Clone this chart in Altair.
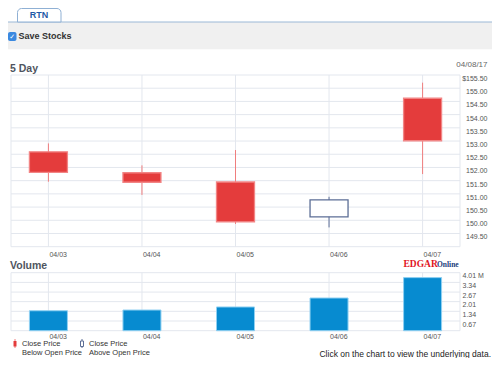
import altair as alt
import pandas as pd

# ---- data ----
dates = ["04/03", "04/04", "04/05", "04/06", "04/07"]
opens = [152.59, 151.80, 151.45, 150.13, 154.62]
highs = [152.91, 152.08, 152.66, 150.89, 155.21]
lows = [151.46, 150.96, 149.86, 149.73, 151.75]
closes = [151.81, 151.44, 149.94, 150.77, 153.01]
volumes = [1.38, 1.43, 1.64, 2.26, 3.67]  # millions

price_grid = [149.0, 149.5, 150.0, 150.5, 151.0, 151.5, 152.0, 152.5, 153.0, 153.5, 154.0, 154.5, 155.0, 155.5]
price_ticks = price_grid[1:]
vol_ticks = [0.67, 1.34, 2.01, 2.67, 3.34, 4.01]
vol_grid = [0.0] + vol_ticks

df = pd.DataFrame({"date": dates, "open": opens, "high": highs, "low": lows,
                   "close": closes, "volume": volumes})
pg = pd.DataFrame({"v": price_grid})
vg = pd.DataFrame({"v": vol_grid})
one = pd.DataFrame({"k": [0]})

FONT = "Liberation Sans"
GRID = "#e3e7ee"
LEFT, RIGHT = 3, 452
P_TOP, P_BOT = 67, 238.7
V_TOP, V_BOT = 264.7, 322.7

xs = alt.Scale(type="point", domain=dates, range=[LEFT, RIGHT], padding=0.4)
X = alt.X("date:N", scale=xs, axis=None, sort=dates)

ps = alt.Scale(domain=[149.0, 155.5], range=[P_BOT, P_TOP], nice=False, zero=False)
vs = alt.Scale(domain=[0, 4.01], range=[V_BOT, V_TOP], nice=False, zero=False)

price_axis = alt.Axis(orient="right", offset=-32, values=price_ticks, title=None,
                      labelExpr="datum.value == 155.5 ? '$155.50' : format(datum.value, '.2f')",
                      labelAlign="right", labelPadding=27, ticks=False, tickSize=0,
                      domain=False, grid=False, labelFont=FONT, labelFontSize=7,
                      labelColor="#555555", labelBaseline="middle", labelOffset=3.5,
                      labelOverlap=False)
vol_axis = alt.Axis(orient="right", offset=-32, values=vol_ticks, title=None,
                    labelExpr="datum.value == 4.01 ? '4.01 M' : format(datum.value, '.2f')",
                    labelAlign="left", labelPadding=2, ticks=False, tickSize=0,
                    domain=False, grid=False, labelFont=FONT, labelFontSize=7,
                    labelColor="#555555", labelBaseline="middle", labelOffset=3,
                    labelOverlap=False)


def txt(t, x, y, size=8, color="#333333", weight="normal", align="left", font=FONT):
    return alt.Chart(one).mark_text(text=t, align=align, baseline="middle", fontSize=size,
                                    color=color, fontWeight=weight, font=font).encode(
        x=alt.value(x), y=alt.value(y))


def box(x1, x2, y1, y2, fill, stroke=None, sw=0, r=0):
    kw = dict(fill=fill, strokeWidth=sw, cornerRadius=r)
    if stroke:
        kw["stroke"] = stroke
    return alt.Chart(one).mark_rect(**kw).encode(
        x=alt.value(x1), x2=alt.value(x2), y=alt.value(y1), y2=alt.value(y2))


# ---- header ----
band = box(0, 484, 14, 41.3, "#f0f0f0")
band_line = alt.Chart(one).mark_rule(color="#9bb8d6", strokeWidth=1).encode(
    x=alt.value(0), x2=alt.value(484), y=alt.value(14))
tab = alt.Chart(one).mark_rect(fill="white", stroke="#8fb0d4", strokeWidth=1,
                               cornerRadiusTopLeft=4, cornerRadiusTopRight=4).encode(
    x=alt.value(9.5), x2=alt.value(53), y=alt.value(0.5), y2=alt.value(14))
tab_text = txt("RTN", 31, 6.5, 9, "#1f5aa6", "bold", "center")
check = box(0, 8.5, 24, 33, "#3b89e0", r=2)
check_mark = txt("✓", 4.3, 28.5, 7, "white", "bold", "center", "DejaVu Sans")
save_text = txt("Save Stocks", 10.5, 27.5, 9, "#333333", "bold")

title_price = txt("5 Day", 2, 60.5, 10.5, "#4f5560", "bold")
date_text = txt("04/08/17", 479.5, 57, 8, "#666666", "normal", "right")
title_vol = txt("Volume", 2, 257.5, 10.5, "#4f5560", "bold")
edgar = txt("EDGAR", 395.5, 256, 9.5, "#e1141e", "bold", "left", "Liberation Serif")
online = txt("Online", 429, 257, 7.5, "#1a3c7c", "bold", "left", "Liberation Serif")

# ---- price panel ----
hgrid_p = alt.Chart(pg).mark_rule(color=GRID, strokeWidth=1).encode(
    y=alt.Y("v:Q", scale=ps, axis=price_axis), x=alt.value(LEFT), x2=alt.value(RIGHT))
vgrid_p = alt.Chart(df).mark_rule(color=GRID, strokeWidth=1).encode(
    x=X, y=alt.value(P_TOP), y2=alt.value(P_BOT))
border_p = alt.Chart(pd.DataFrame({"e": [LEFT, RIGHT]})).mark_rule(color=GRID).encode(
    x=alt.X("e:Q", scale=None), y=alt.value(P_TOP), y2=alt.value(P_BOT))

down = alt.datum.close < alt.datum.open
wick = alt.Chart(df).mark_rule(strokeWidth=1).encode(
    x=X,
    y=alt.Y("low:Q", scale=ps, axis=price_axis),
    y2="high:Q",
    color=alt.condition(down, alt.value("#f07e7e"), alt.value("#5c6e96")))
body = alt.Chart(df).mark_bar(size=38, strokeWidth=1.3).encode(
    x=X,
    y=alt.Y("open:Q", scale=ps, axis=price_axis),
    y2="close:Q",
    fill=alt.condition(down, alt.value("#e43c3c"), alt.value("white")),
    stroke=alt.condition(down, alt.value("#f28585"), alt.value("#5c6e96")))
price = alt.layer(hgrid_p, vgrid_p, border_p, wick, body)

# ---- volume panel ----
hgrid_v = alt.Chart(vg).mark_rule(color=GRID, strokeWidth=1).encode(
    y=alt.Y("v:Q", scale=vs, axis=vol_axis), x=alt.value(LEFT), x2=alt.value(RIGHT))
vgrid_v = alt.Chart(df).mark_rule(color=GRID, strokeWidth=1).encode(
    x=X, y=alt.value(V_TOP), y2=alt.value(V_BOT))
border_v = alt.Chart(pd.DataFrame({"e": [LEFT, RIGHT]})).mark_rule(color=GRID).encode(
    x=alt.X("e:Q", scale=None), y=alt.value(V_TOP), y2=alt.value(V_BOT))
vbars = alt.Chart(df).mark_bar(size=38, fill="#078bd0", stroke="#8fd0f2", strokeWidth=1).encode(
    x=X, y=alt.Y("volume:Q", scale=vs, axis=vol_axis))
volume = alt.layer(hgrid_v, vgrid_v, border_v, vbars)

# ---- date labels ----
xlab_p = alt.Chart(df).mark_text(align="left", baseline="middle", dx=1, fontSize=7,
                                 font=FONT, color="#555555").encode(
    x=X, y=alt.value(247), text="date:N")
xlab_v = alt.Chart(df).mark_text(align="left", baseline="middle", dx=1, fontSize=7,
                                 font=FONT, color="#555555").encode(
    x=X, y=alt.value(329), text="date:N")

# ---- legend & footnote ----
leg_red_w = alt.Chart(one).mark_rule(color="#f07e7e").encode(
    x=alt.value(7), y=alt.value(331), y2=alt.value(340))
leg_red = box(5.5, 8.5, 333, 338.5, "#e43c3c")
leg_hol_w = alt.Chart(one).mark_rule(color="#5c6e96").encode(
    x=alt.value(74), y=alt.value(331), y2=alt.value(340))
leg_hol = box(72.5, 75.5, 333, 338.5, "white", "#5c6e96", 1)
leg_t1 = txt("Close Price", 14, 335.5, 7.5)
leg_t2 = txt("Below Open Price", 14, 345, 7.5)
leg_t3 = txt("Close Price", 81, 335.5, 7.5)
leg_t4 = txt("Above Open Price", 81, 345, 7.5)
foot = txt("Click on the chart to view the underlying data.", 483, 346, 8.5, "#222222",
           "normal", "right")

chart = alt.layer(
    band, band_line, tab, tab_text, check, check_mark, save_text,
    title_price, date_text, title_vol, edgar, online,
    price, volume, xlab_p, xlab_v,
    leg_red_w, leg_red, leg_hol_w, leg_hol, leg_t1, leg_t2, leg_t3, leg_t4, foot,
).resolve_scale(y="independent").properties(
    width=484, height=350, padding=0, autosize=alt.AutoSizeParams(type="none"),
    background="white",
).configure_view(strokeWidth=0)

chart.save("out.html", embed_options={"renderer": "svg", "actions": False})
